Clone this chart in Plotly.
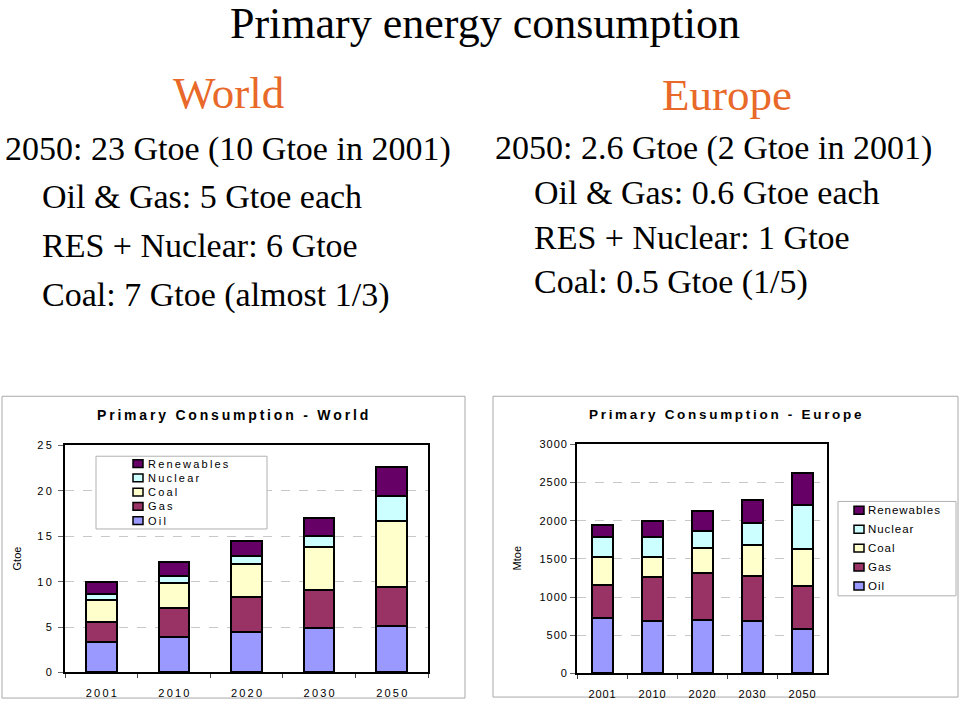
import plotly.graph_objects as go

# ---------------- data ----------------
years = ["2001", "2010", "2020", "2030", "2050"]
series = ["Oil", "Gas", "Coal", "Nuclear", "Renewables"]

world_oil = [3.4, 3.9, 4.45, 4.95, 5.1]
world_gas = [2.2, 3.25, 3.85, 4.15, 4.35]
world_coal = [2.35, 2.7, 3.65, 4.7, 7.25]
world_nuclear = [0.65, 0.75, 0.85, 1.25, 2.75]
world_renewables = [1.4, 1.55, 1.7, 1.95, 3.2]

europe_oil = [728, 683, 702, 692, 580]
europe_gas = [435, 583, 614, 585, 562]
europe_coal = [358, 262, 332, 405, 485]
europe_nuclear = [270, 262, 224, 290, 585]
europe_renewables = [154, 206, 256, 303, 410]

world_yticks = [0, 5, 10, 15, 20, 25]
europe_yticks = [0, 500, 1000, 1500, 2000, 2500, 3000]

colors = ["#9999FF", "#993366", "#FFFFCC", "#CCFFFF", "#660066"]

world_values = [world_oil, world_gas, world_coal, world_nuclear, world_renewables]
europe_values = [europe_oil, europe_gas, europe_coal, europe_nuclear, europe_renewables]

W, H = 960, 707
def px(x):
    return x / W
def py(y):
    return 1 - y / H

THIN = "\u2009"
HAIR = "\u200A"
def spaced(s, sep):
    return sep.join(list(s))

fig = go.Figure()

for name, vals, col in zip(series, world_values, colors):
    fig.add_trace(go.Bar(x=years, y=vals, name=name, marker=dict(color=col, line=dict(color="black", width=2)),
                         width=0.42, xaxis="x", yaxis="y", showlegend=False))
for name, vals, col in zip(series, europe_values, colors):
    fig.add_trace(go.Bar(x=years, y=vals, name=name, marker=dict(color=col, line=dict(color="black", width=2)),
                         width=0.42, xaxis="x2", yaxis="y2", showlegend=False))

sans = "Liberation Sans, Arial, sans-serif"
serif = "Liberation Serif, Times New Roman, serif"

axis_common = dict(showline=True, linecolor="black", linewidth=2, mirror=True)

fig.update_layout(
    width=W, height=H,
    margin=dict(l=0, r=0, t=0, b=0),
    paper_bgcolor="white", plot_bgcolor="white",
    barmode="stack",
    showlegend=False,
    font=dict(family=sans, color="black", size=11),
    xaxis=dict(domain=[px(65), px(428)], anchor="y", type="category",
               tickmode="array", tickvals=years, ticktext=[spaced(y, THIN) for y in years],
               tickson="boundaries", ticks="outside", ticklen=4, tickcolor="#444", ticklabelstandoff=9,
               showgrid=False, tickfont=dict(size=11, family=sans), **axis_common),
    yaxis=dict(domain=[py(678), py(447)], anchor="x", range=[0, 25],
               tickmode="array", tickvals=world_yticks, ticktext=[spaced(str(v), THIN) for v in world_yticks],
               ticks="outside", ticklen=5, tickcolor="#666", ticklabelstandoff=4,
               showgrid=True, gridcolor="#c8c8c8", griddash="dash", gridwidth=1,
               tickfont=dict(size=11, family=sans), **axis_common),
    xaxis2=dict(domain=[px(577), px(827)], anchor="y2", type="category",
                tickmode="array", tickvals=years, ticktext=[spaced(y, HAIR) for y in years],
                tickson="boundaries", ticks="outside", ticklen=4, tickcolor="#444", ticklabelstandoff=9,
                showgrid=False, tickfont=dict(size=11, family=sans), **axis_common),
    yaxis2=dict(domain=[py(679), py(446)], anchor="x2", range=[0, 3000],
                tickmode="array", tickvals=europe_yticks, ticktext=[spaced(str(v), HAIR) for v in europe_yticks],
                ticks="outside", ticklen=5, tickcolor="#666", ticklabelstandoff=1,
                showgrid=True, gridcolor="#c8c8c8", griddash="dash", gridwidth=1,
                tickfont=dict(size=11, family=sans), **axis_common),
)

shapes = []
annotations = []

def note(x, y, text, size, family, color="black", xanchor="center", yanchor="middle", angle=0):
    annotations.append(dict(x=px(x), y=py(y), xref="paper", yref="paper", showarrow=False,
                            xanchor=xanchor, yanchor=yanchor, textangle=angle, text=text,
                            font=dict(size=size, family=family, color=color)))

# outer chart frames
shapes.append(dict(type="rect", xref="paper", yref="paper", x0=px(2), x1=px(465), y0=py(704), y1=py(397),
                   line=dict(color="#a8a8a8", width=1), fillcolor="rgba(0,0,0,0)", layer="below"))
shapes.append(dict(type="rect", xref="paper", yref="paper", x0=px(493), x1=px(958), y0=py(703), y1=py(397),
                   line=dict(color="#a8a8a8", width=1), fillcolor="rgba(0,0,0,0)", layer="below"))

# legends (drawn as layout decoration)
def legend(box, sw_x, txt_x, row0, step, sep, fsize):
    x0, x1, y0, y1 = box
    shapes.append(dict(type="rect", xref="paper", yref="paper", x0=px(x0), x1=px(x1), y0=py(y1), y1=py(y0),
                       line=dict(color="#b0b0b0", width=1), fillcolor="white", layer="above"))
    for k, (name, col) in enumerate(zip(series[::-1], colors[::-1])):
        yc = row0 + step * k
        shapes.append(dict(type="rect", xref="paper", yref="paper", x0=px(sw_x), x1=px(sw_x + 10),
                           y0=py(yc + 4), y1=py(yc - 4), line=dict(color="black", width=1.5),
                           fillcolor=col, layer="above"))
        note(txt_x, yc, spaced(name, sep), fsize, sans, xanchor="left")

legend((96, 267, 458, 532), 133, 146, 465.5, 14.5, THIN, 11)
legend((838, 956, 504, 600), 854, 866, 513, 19.25, HAIR, 11.5)

# chart titles
note(232, 416, "<b>" + spaced("Primary Consumption - World", THIN) + "</b>", 14, sans)
note(725, 416, "<b>" + spaced("Primary Consumption - Europe", THIN) + "</b>", 13.5, sans)
# axis titles
note(17, 562, "Gtoe", 11, sans, angle=-90)
note(517, 562, "Mtoe", 11, sans, angle=-90)

# slide texts
note(485, -9, "Primary energy consumption", 44, serif, yanchor="top")
note(228, 89, "World", 45, serif, color="#E8692A")
note(727, 91, "Europe", 45, serif, color="#E8692A")

left_lines = [("2050: 23 Gtoe (10 Gtoe in 2001)", 3, 145), ("Oil &amp; Gas: 5 Gtoe each", 40, 194),
              ("RES + Nuclear: 6 Gtoe", 40, 244), ("Coal: 7 Gtoe (almost 1/3)", 40, 294)]
right_lines = [("2050: 2.6 Gtoe (2 Gtoe in 2001)", 493, 144), ("Oil &amp; Gas: 0.6 Gtoe each", 532, 190),
               ("RES + Nuclear: 1 Gtoe", 532, 236), ("Coal: 0.5 Gtoe (1/5)", 532, 281)]
for t, x, y in left_lines + right_lines:
    note(x, y, t, 34, serif, xanchor="left")

fig.update_layout(shapes=shapes, annotations=annotations)
fig.write_html("out.html", config={"displayModeBar": False},
               post_script="document.body.style.margin='0';document.body.style.padding='0';")
